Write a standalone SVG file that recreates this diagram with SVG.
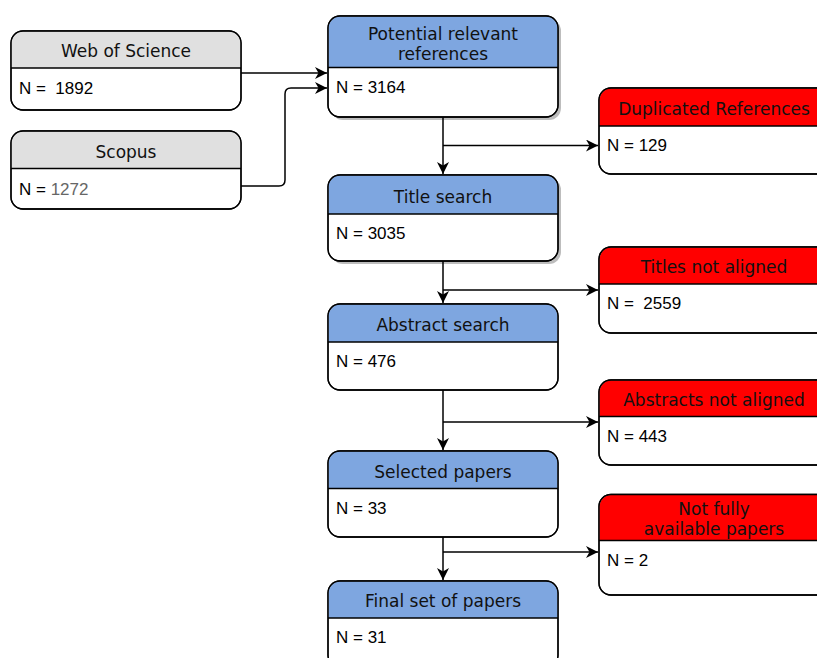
<svg xmlns="http://www.w3.org/2000/svg" width="817" height="658" viewBox="0 0 817 658">
  <defs>
    <marker id="arrow" markerUnits="userSpaceOnUse" markerWidth="14" markerHeight="14" refX="12" refY="6" orient="auto">
      <path d="M0,0 L12,6 L0,12 L3.5,6 Z" fill="#000"/>
    </marker>
  </defs>
  <style>
    .box { fill: #fff; stroke: #000; stroke-width: 1.3; }
    .shadow { fill: #bdbdbd; }
    .sep { stroke: #000; stroke-width: 1.3; }
    .gray { fill: #e0e0e0; }
    .blue { fill: #7ea6e0; }
    .red { fill: #ff0000; }
    .head { font-family: "DejaVu Sans", Verdana, sans-serif; font-size: 17px; fill: #111; text-anchor: middle; }
    .body { font-family: "Liberation Sans", Arial, sans-serif; font-size: 17px; fill: #000; white-space: pre; }
    .edge { fill: none; stroke: #000; stroke-width: 1.5; }
  </style>

  <!-- source databases -->
  <g id="web-of-science">
    <rect class="box" x="11" y="31" width="230" height="79" rx="12"/>
    <path class="gray" d="M11.6,68 V43 A11.4,11.4 0 0 1 23,31.6 H229 A11.4,11.4 0 0 1 240.4,43 V68 Z"/>
    <rect x="11" y="31" width="230" height="79" rx="12" fill="none" stroke="#000" stroke-width="1.3"/>
    <line class="sep" x1="11" y1="68" x2="241" y2="68"/>
    <text class="head" x="126" y="57">Web of Science</text>
    <text class="body" x="19" y="94">N =  1892</text>
  </g>

  <g id="scopus">
    <rect class="box" x="11" y="131" width="230" height="78" rx="12"/>
    <path class="gray" d="M11.6,168.5 V143 A11.4,11.4 0 0 1 23,131.6 H229 A11.4,11.4 0 0 1 240.4,143 V168.5 Z"/>
    <rect x="11" y="131" width="230" height="78" rx="12" fill="none" stroke="#000" stroke-width="1.3"/>
    <line class="sep" x1="11" y1="168.5" x2="241" y2="168.5"/>
    <text class="head" x="126" y="158">Scopus</text>
    <text class="body" x="19" y="195">N = <tspan fill="#666">1272</tspan></text>
  </g>

  <!-- main screening flow -->
  <g id="potential-references">
    <rect class="shadow" x="331" y="19" width="230" height="101" rx="12"/>
    <rect class="box" x="328" y="16" width="230" height="101" rx="12"/>
    <path class="blue" d="M328.6,67.5 V28 A11.4,11.4 0 0 1 340,16.6 H546 A11.4,11.4 0 0 1 557.4,28 V67.5 Z"/>
    <rect x="328" y="16" width="230" height="101" rx="12" fill="none" stroke="#000" stroke-width="1.3"/>
    <line class="sep" x1="328" y1="67.5" x2="558" y2="67.5"/>
    <text class="head" x="443" y="40">Potential relevant</text>
    <text class="head" x="443" y="60">references</text>
    <text class="body" x="336" y="93">N = 3164</text>
  </g>

  <g id="title-search">
    <rect class="shadow" x="331" y="178" width="230" height="86" rx="12"/>
    <rect class="box" x="328" y="175" width="230" height="86" rx="12"/>
    <path class="blue" d="M328.6,214 V187 A11.4,11.4 0 0 1 340,175.6 H546 A11.4,11.4 0 0 1 557.4,187 V214 Z"/>
    <rect x="328" y="175" width="230" height="86" rx="12" fill="none" stroke="#000" stroke-width="1.3"/>
    <line class="sep" x1="328" y1="214" x2="558" y2="214"/>
    <text class="head" x="443" y="203">Title search</text>
    <text class="body" x="336" y="239">N = 3035</text>
  </g>

  <g id="abstract-search">
    <rect class="box" x="328" y="304" width="230" height="86" rx="12"/>
    <path class="blue" d="M328.6,342 V316 A11.4,11.4 0 0 1 340,304.6 H546 A11.4,11.4 0 0 1 557.4,316 V342 Z"/>
    <rect x="328" y="304" width="230" height="86" rx="12" fill="none" stroke="#000" stroke-width="1.3"/>
    <line class="sep" x1="328" y1="342" x2="558" y2="342"/>
    <text class="head" x="443" y="331">Abstract search</text>
    <text class="body" x="336" y="367">N = 476</text>
  </g>

  <g id="selected-papers">
    <rect class="box" x="328" y="451" width="230" height="86" rx="12"/>
    <path class="blue" d="M328.6,488.5 V463 A11.4,11.4 0 0 1 340,451.6 H546 A11.4,11.4 0 0 1 557.4,463 V488.5 Z"/>
    <rect x="328" y="451" width="230" height="86" rx="12" fill="none" stroke="#000" stroke-width="1.3"/>
    <line class="sep" x1="328" y1="488.5" x2="558" y2="488.5"/>
    <text class="head" x="443" y="478">Selected papers</text>
    <text class="body" x="336" y="514">N = 33</text>
  </g>

  <g id="final-set">
    <rect class="box" x="328" y="581" width="230" height="86" rx="12"/>
    <path class="blue" d="M328.6,618 V593 A11.4,11.4 0 0 1 340,581.6 H546 A11.4,11.4 0 0 1 557.4,593 V618 Z"/>
    <rect x="328" y="581" width="230" height="86" rx="12" fill="none" stroke="#000" stroke-width="1.3"/>
    <line class="sep" x1="328" y1="618" x2="558" y2="618"/>
    <text class="head" x="443" y="607">Final set of papers</text>
    <text class="body" x="336" y="643">N = 31</text>
  </g>

  <!-- exclusions -->
  <g id="duplicated-references">
    <rect class="box" x="599" y="88" width="230" height="86" rx="12"/>
    <path class="red" d="M599.6,126 V100 A11.4,11.4 0 0 1 611,88.6 H817 A11.4,11.4 0 0 1 828.4,100 V126 Z"/>
    <rect x="599" y="88" width="230" height="86" rx="12" fill="none" stroke="#000" stroke-width="1.3"/>
    <line class="sep" x1="599" y1="126" x2="829" y2="126"/>
    <text class="head" x="714" y="115">Duplicated References</text>
    <text class="body" x="607" y="151">N = 129</text>
  </g>

  <g id="titles-not-aligned">
    <rect class="box" x="599" y="247" width="230" height="86" rx="12"/>
    <path class="red" d="M599.6,284 V259 A11.4,11.4 0 0 1 611,247.6 H817 A11.4,11.4 0 0 1 828.4,259 V284 Z"/>
    <rect x="599" y="247" width="230" height="86" rx="12" fill="none" stroke="#000" stroke-width="1.3"/>
    <line class="sep" x1="599" y1="284" x2="829" y2="284"/>
    <text class="head" x="714" y="273">Titles not aligned</text>
    <text class="body" x="607" y="309">N =  2559</text>
  </g>

  <g id="abstracts-not-aligned">
    <rect class="box" x="599" y="380" width="230" height="85" rx="12"/>
    <path class="red" d="M599.6,416.5 V392 A11.4,11.4 0 0 1 611,380.6 H817 A11.4,11.4 0 0 1 828.4,392 V416.5 Z"/>
    <rect x="599" y="380" width="230" height="85" rx="12" fill="none" stroke="#000" stroke-width="1.3"/>
    <line class="sep" x1="599" y1="416.5" x2="829" y2="416.5"/>
    <text class="head" x="714" y="406">Abstracts not aligned</text>
    <text class="body" x="607" y="442">N = 443</text>
  </g>

  <g id="not-fully-available">
    <rect class="box" x="599" y="494.5" width="230" height="100.5" rx="12"/>
    <path class="red" d="M599.6,540.5 V506.5 A11.4,11.4 0 0 1 611,495.1 H817 A11.4,11.4 0 0 1 828.4,506.5 V540.5 Z"/>
    <rect x="599" y="494.5" width="230" height="100.5" rx="12" fill="none" stroke="#000" stroke-width="1.3"/>
    <line class="sep" x1="599" y1="540.5" x2="829" y2="540.5"/>
    <text class="head" x="714" y="515">Not fully</text>
    <text class="head" x="714" y="535">available papers</text>
    <text class="body" x="607" y="566">N = 2</text>
  </g>

  <!-- connectors -->
  <g id="connectors">
    <path class="edge" d="M241,73 H327" marker-end="url(#arrow)"/>
    <path class="edge" d="M241,186 H279 Q285,186 285,180 V94 Q285,88 291,88 H327" marker-end="url(#arrow)"/>

    <path class="edge" d="M443,117 V174" marker-end="url(#arrow)"/>
    <path class="edge" d="M443,145.5 H598" marker-end="url(#arrow)"/>

    <path class="edge" d="M443,261 V303" marker-end="url(#arrow)"/>
    <path class="edge" d="M443,290 H598" marker-end="url(#arrow)"/>

    <path class="edge" d="M443,390 V450" marker-end="url(#arrow)"/>
    <path class="edge" d="M443,422 H598" marker-end="url(#arrow)"/>

    <path class="edge" d="M443,537 V580" marker-end="url(#arrow)"/>
    <path class="edge" d="M443,552 H598" marker-end="url(#arrow)"/>
  </g>
</svg>
